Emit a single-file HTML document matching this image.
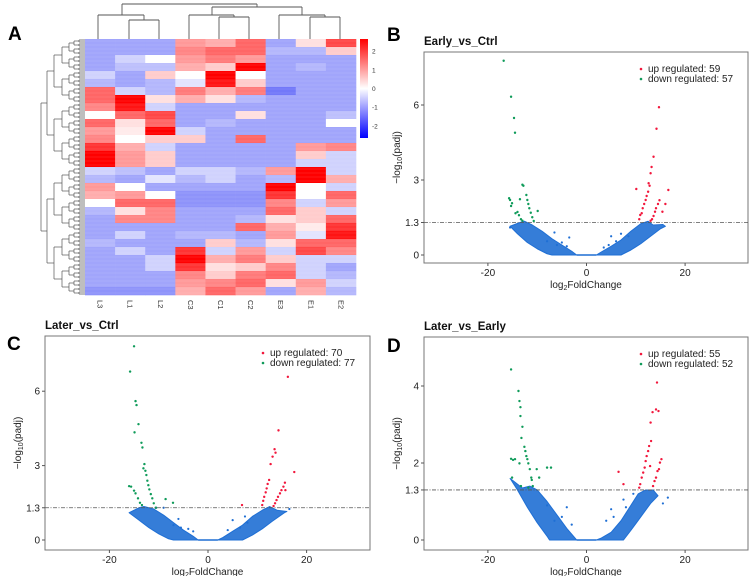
<!DOCTYPE html>
<html><head><meta charset="utf-8"><style>
html,body{margin:0;padding:0;background:#fff}
svg{display:block;font-family:"Liberation Sans",Arial,sans-serif}
</style></head><body>
<svg id="fig" width="753" height="576" viewBox="0 0 753 576">
<text x="8" y="40" font-size="19" font-weight="bold">A</text>
<text x="387" y="41" font-size="19" font-weight="bold">B</text>
<text x="7" y="350" font-size="19" font-weight="bold">C</text>
<text x="387" y="352" font-size="19" font-weight="bold">D</text>
<g id="heat"></g>
<g id="pB"></g>
<g id="pC"></g>
<g id="pD"></g>
</svg>
<script>
const NS="http://www.w3.org/2000/svg";
function mk(p,tag,at){const e=document.createElementNS(NS,tag);for(const k in at)e.setAttribute(k,at[k]);p.appendChild(e);return e;}

// ---------- Heatmap data ----------
const samples=["L3","L1","L2","C3","C1","C2","E3","E1","E2"];
const heatRows=[
[-1,-1,-1,1,0.8,1.5,-1,0.3,1.8],
[-1,-1,-1,1.2,1.5,1.5,-0.8,-0.8,0.5],
[-1,-0.5,0,1,1.3,1,-1,-1,-1],
[-1,-0.7,-0.7,0.8,0.5,2.5,-1,-0.8,-1],
[-0.5,-1,0.5,0,2.5,0,-1,-1,-1],
[-0.8,-1,-0.8,-0.3,2.3,0.5,-1,-1,-1],
[1.5,-0.5,-0.8,1.3,0.8,1.3,-1.5,-1,-1],
[1.5,2.5,0.3,0.8,0.3,-0.8,-1,-1,-1],
[1.2,2.3,-0.5,-1,-1,-1,-1,-1,-1],
[0,1.5,1.8,-1,-1,0.3,-1,-1,-0.7],
[1.5,0.3,1.5,-1,-0.8,-1,-1,-1,0],
[1,0.2,2.5,-0.5,-1,-1,-1,-1,-1],
[1.2,0,0.5,0.5,-1,1.5,-1,-1,-1],
[2,0.8,-0.5,-1,-1,-1,-1,1,1.2],
[2.5,1,0.5,-1,-1,-1,-1,0.5,-0.5],
[2.5,1,0.5,-1,-1,-1,-1,-0.5,-0.5],
[-0.5,-0.7,-1,-0.5,-0.5,-0.8,1,2.5,-0.5],
[-0.8,-1,-0.3,-0.8,-0.5,-1,-0.8,2.5,0.8],
[1,0,-1,-1,-1,-1,2.5,0,-0.5],
[0.8,1,0,-1.2,-1.2,-1.2,2,0,1.5],
[0,1.5,1.5,-1.2,-1.2,-1.2,1.2,-0.5,1],
[-0.8,0.3,1.2,-1,-1,-1,1.5,0.5,-0.5],
[-1,1.2,1.2,-1,-1,-0.8,0.3,0.5,1.5],
[-1,-1,-1,-1,-1,1.5,0.8,0.2,2],
[-1,-0.5,-1,-0.8,-0.8,-1,1,-0.3,2.3],
[-0.8,-1,-1,-1,0.5,-0.8,0.3,1.5,1.5],
[-1,-0.5,-1,2,-0.5,1,-0.5,1.8,1.2],
[-1,-1,-0.5,2.5,0.8,1.3,0.5,-0.5,-0.5],
[-1,-1,-0.5,2,0.3,0.5,1.2,-0.5,-1],
[-1,-1,-1,1.2,0.5,1.3,1.5,-0.5,-0.8],
[-1,-1,-1,1,1.2,1.5,0.3,1,-0.5],
[-1.2,-1.2,-1.2,0.8,1.5,1,-1,0.8,-0.8]];
const colorTicks=[2,1,0,-1,-2];

function heatColor(v){const t=Math.max(-2.5,Math.min(2.5,v))/2.5;
 if(t>=0){const c=Math.round(255*(1-t));return `rgb(255,${c},${c})`;}
 const a=-t;const r=Math.round(255-a*(255-20)),gg=Math.round(255-a*(255-30));return `rgb(${r},${gg},${Math.round(255-a*10)})`;}
(function(){
 const g=document.getElementById('heat');
 const X0=85,Y0=39,W=271,H=256,cw=W/samples.length,rh=H/heatRows.length;
 heatRows.forEach((row,i)=>row.forEach((v,j)=>{
  const r=mk(g,'rect',{x:X0+j*cw,y:Y0+i*rh,width:cw+0.3,height:rh+0.3,fill:heatColor(v)});
  
  
 }));
 for(let k=0;k<64;k++){mk(g,'line',{x1:X0,y1:Y0+k*4+2,x2:X0+W,y2:Y0+k*4+2,stroke:'#fff','stroke-opacity':0.12,'stroke-width':0.8});}
 samples.forEach((s,j)=>{
  const cx=X0+cw*(j+0.5);
  const t=mk(g,'text',{x:0,y:0,'font-size':7.5,fill:'#333',transform:`translate(${cx-2.5},300) rotate(90)`});
  t.textContent=s;
  
  
 });
 const cd=mk(g,'g',{stroke:'#555','stroke-width':0.9,fill:'none'});
 
 
 const segs=[[98,15,144,15],[98,15,98,39],[144,15,144,20],[129,20,159,20],[129,20,129,39],[159,20,159,39],
 [122,4,257,4],[122,4,122,15],[257,4,257,7],[212,7,302,7],[212,7,212,15],[189,15,234,15],[189,15,189,39],[234,15,234,17],[219,17,249,17],[219,17,219,39],[249,17,249,39],
 [302,7,302,15],[279,15,325,15],[279,15,279,39],[325,15,325,17],[310,17,340,17],[310,17,310,39],[340,17,340,39]];
 segs.forEach(s=>mk(cd,'line',{x1:s[0],y1:s[1],x2:s[2],y2:s[3]}));
 const rd=mk(g,'g',{stroke:'#555','stroke-width':0.7,fill:'none'});
 
 
 const levX=[85,79,74,69,62,54,47,41];
 let ys=[];for(let i=0;i<128;i++)ys.push(Y0+(i+0.5)*H/128);
 for(let i=0;i<128;i++)mk(rd,'line',{x1:levX[1],y1:ys[i],x2:85,y2:ys[i],stroke:'#444'});
 for(let l=1;l<levX.length;l++){const nys=[];
  for(let i=0;i<ys.length;i+=2){const a=ys[i],b=ys[i+1];
   mk(rd,'line',{x1:levX[l],y1:a,x2:levX[l],y2:b});
   const m=(a+b)/2;nys.push(m);
   if(l+1<levX.length)mk(rd,'line',{x1:levX[l+1],y1:m,x2:levX[l],y2:m});}
  ys=nys;}
 const defs=mk(g,'defs',{});const lg=mk(defs,'linearGradient',{id:'cb',x1:0,y1:0,x2:0,y2:1});
 [[0,'#ff0000'],[0.5,'#ffffff'],[1,'#0000ff']].forEach(s=>mk(lg,'stop',{offset:s[0],'stop-color':s[1]}));
 const cb=mk(g,'rect',{x:360,y:39,width:8,height:99,fill:'url(#cb)'});
 
 
 colorTicks.forEach(v=>{const y=88.5-v*18.7;
  const t=mk(g,'text',{x:372,y:y+2.5,'font-size':6.5,fill:'#333'});t.textContent=String(v);
  
  });
})();

// ---------- Volcano data ----------
const bDownX=[-16.8,-15.3,-14.7,-14.5,-13.0,-12.8,-15.7,-15.5,-15.1,-15.3,-13.5,-12.2,-12.0,-11.8,-11.6,-11.3,-11.0,-10.7,-9.9,-14.0,-13.7,-13.3,-13.0,-14.4];
const bDownY=[7.77,6.33,5.48,4.89,2.81,2.77,2.27,2.2,2.07,1.96,2.23,2.4,2.2,2.04,1.87,1.69,1.51,1.36,1.76,1.72,1.59,1.43,1.37,1.67];
const bUpX=[14.7,14.2,13.6,13.2,13.0,12.6,12.8,16.6,10.1,12.5,12.2,14.8,14.5,16.0,12.0,11.7,14.1,13.9,13.6,11.4,11.2,10.9,13.3,10.7,13.0,15.4];
const bUpY=[5.91,5.05,3.93,3.52,3.27,2.87,2.77,2.6,2.64,2.53,2.36,2.19,2.04,2.04,2.2,2.04,1.87,1.73,1.56,1.87,1.67,1.6,1.43,1.43,1.37,1.73];
const cDownX=[-15.0,-15.8,-14.7,-14.5,-14.1,-14.9,-13.5,-13.3,-12.9,-13.1,-12.7,-12.5,-12.3,-12.1,-11.9,-11.6,-11.3,-11.0,-16.0,-15.6,-15.0,-14.7,-14.2,-13.8,-13.4,-8.6,-7.1,-10.6];
const cDownY=[7.81,6.79,5.6,5.44,4.67,4.34,3.92,3.73,3.06,2.89,2.79,2.62,2.39,2.21,2.04,1.85,1.68,1.48,2.17,2.15,1.99,1.88,1.68,1.5,1.41,1.65,1.5,1.3];
const cUpX=[16.2,14.3,13.5,13.7,13.1,12.7,17.5,12.4,12.1,11.9,11.7,11.4,11.2,11.0,15.6,15.3,14.9,14.6,14.2,13.9,13.6,13.3,15.7,6.9];
const cUpY=[6.58,4.42,3.66,3.52,3.36,3.06,2.74,2.42,2.26,2.08,1.92,1.74,1.58,1.41,2.31,2.15,2.01,1.88,1.74,1.61,1.48,1.37,2.01,1.41];
const dDownX=[-15.3,-13.8,-13.6,-13.4,-13.4,-13.0,-13.2,-12.6,-12.4,-12.2,-12.0,-11.8,-11.5,-11.2,-11.1,-10.9,-15.3,-14.9,-14.5,-13.6,-15.1,-10.1,-9.6,-8.0,-7.2,-13.3,-11.8];
const dDownY=[4.43,3.87,3.61,3.45,3.22,2.94,2.65,2.42,2.31,2.18,2.1,1.99,1.84,1.62,1.56,1.4,2.11,2.08,2.1,1.99,1.62,1.84,1.62,1.88,1.88,1.4,1.36];
const dUpX=[14.3,14.6,14.1,13.4,13.0,13.1,12.7,12.5,12.2,12.0,11.8,11.5,11.2,10.9,10.7,15.2,14.9,14.7,14.4,14.1,13.8,13.5,12.9,6.5,7.5];
const dUpY=[4.09,3.35,3.39,3.32,3.05,2.57,2.44,2.31,2.18,2.05,1.88,1.75,1.62,1.45,1.36,2.1,2.01,1.84,1.79,1.62,1.53,1.4,1.92,1.77,1.45];
const bLeftBand=[[-15.5,1.15],[-14,0.85],[-12,0.5],[-10,0.25],[-8,0.05],[-7,0],[-2,0],[-3,0.15],[-5,0.4],[-7,0.65],[-9,0.95],[-11,1.2],[-12.6,1.35],[-13.5,1.3]];
const bRightBand=[[2,0],[7,0],[9,0.2],[11,0.45],[13,0.75],[15,1.05],[16,1.15],[15.5,1.22],[13.5,1.2],[12.5,1.35],[11,1.25],[9,0.95],[7,0.6],[5,0.35],[3,0.12]];
const cLeftBand=[[-16,1.1],[-14,0.8],[-12,0.5],[-10,0.25],[-8,0.05],[-7,0],[-2,0],[-3,0.15],[-5,0.4],[-7,0.7],[-9,1.0],[-11,1.25],[-13,1.35],[-14,1.3]];
const cRightBand=[[2,0],[7,0],[9,0.2],[11,0.45],[13,0.75],[15.5,1.1],[16,1.15],[14,1.2],[12.5,1.35],[11,1.2],[9,0.95],[7,0.6],[5,0.35],[3,0.1]];
const dLeftBand=[[-15.5,1.6],[-14,1.3],[-12,0.85],[-10,0.45],[-8,0.1],[-7.5,0],[-2,0],[-4,0.3],[-6,0.65],[-8,1.0],[-10,1.3],[-11.5,1.4],[-13,1.35]];
const dRightBand=[[2,0],[7.5,0],[9,0.25],[11,0.6],[13,0.95],[14.5,1.15],[13.5,1.3],[12,1.3],[10.5,1.2],[9,0.9],[7,0.5],[5,0.2],[3,0.05]];
const bBlueX=[-8,-6.5,-5,-4,-3.5,-6,5,6,4.5,7,8.5,3.5,-15.5];
const bBlueY=[0.55,0.9,0.5,0.35,0.7,0.4,0.75,0.55,0.4,0.85,0.75,0.3,1.1];
const cBlueX=[-7,-6,-4,-3,-5.5,5,6.5,4,7.5,8,16.5,-9,-10.5];
const cBlueY=[0.6,0.85,0.45,0.35,0.5,0.8,0.5,0.4,0.95,0.7,1.25,1.3,1.3];
const dBlueX=[-8,-4,-5,-3,-6.5,5,5.5,4,7.5,8,16.5,15.5,9.5];
const dBlueY=[0.9,0.85,0.6,0.4,0.5,0.8,0.6,0.5,1.05,0.85,1.1,0.95,1.2];

function volcano(id,cfg){
 const g=document.getElementById(id);
 const {L,R,T,B,y0,ppy,title,yTicks,upN,downN}=cfg;
 const x0=(L+R)/2+0.5, ppx=4.93;
 const sx=v=>x0+v*ppx, sy=v=>y0-v*ppy;
 const tt=mk(g,'text',{x:L,y:T-7,'font-size':11.5,'font-weight':'bold',fill:'#111'});tt.textContent=title;
 
 
 mk(g,'rect',{x:L,y:T,width:R-L,height:B-T,fill:'#fff',stroke:'#777','stroke-width':1});
 const clip='clip'+id;const cp=mk(mk(g,'defs',{}),'clipPath',{id:clip});mk(cp,'rect',{x:L,y:T,width:R-L,height:B-T});
 const pg=mk(g,'g',{'clip-path':`url(#${clip})`});
 const blue='#1f6fd4';
 [cfg.lb,cfg.rb].forEach(band=>{
  const p=mk(pg,'polygon',{points:band.map(q=>sx(q[0])+','+sy(q[1])).join(' '),fill:blue,'fill-opacity':0.9,stroke:blue,'stroke-width':1,'stroke-linejoin':'round'});
  
  
 });
 mk(pg,'line',{x1:sx(-2),y1:sy(0),x2:sx(2),y2:sy(0),stroke:blue,'stroke-width':1.5});
 cfg.bx.forEach((v,i)=>{const c=mk(pg,'circle',{cx:sx(v),cy:sy(cfg.by[i]),r:1.1,fill:blue});
  
  });
 mk(g,'line',{x1:L,y1:sy(1.3),x2:R,y2:sy(1.3),stroke:'#555','stroke-width':0.8,'stroke-dasharray':'4,1.5,1,1.5'});
 cfg.dx.forEach((v,i)=>{const c=mk(pg,'circle',{cx:sx(v),cy:sy(cfg.dy[i]),r:1.2,fill:'#0f9b5a'});
  
  });
 cfg.ux.forEach((v,i)=>{const c=mk(pg,'circle',{cx:sx(v),cy:sy(cfg.uy[i]),r:1.2,fill:'#f2173c'});
  
  });
 [-20,0,20].forEach(v=>{mk(g,'line',{x1:sx(v),y1:B,x2:sx(v),y2:B+3,stroke:'#555'});
  const t=mk(g,'text',{x:sx(v),y:B+13,'font-size':10,'text-anchor':'middle',fill:'#222'});t.textContent=String(v);
  
  });
 yTicks.forEach(v=>{mk(g,'line',{x1:L-3,y1:sy(v),x2:L,y2:sy(v),stroke:'#555'});
  const t=mk(g,'text',{x:L-5,y:sy(v)+3.5,'font-size':10,'text-anchor':'end',fill:'#222'});t.textContent=String(v);
  
  });
 const xl=mk(g,'text',{x:(L+R)/2,y:B+25,'font-size':10,'text-anchor':'middle',fill:'#222'});
 xl.innerHTML='log<tspan font-size="7" dy="2">2</tspan><tspan dy="-2">FoldChange</tspan>';
 
 
 const yl=mk(g,'text',{x:0,y:0,'font-size':10,'text-anchor':'middle',fill:'#222',transform:`translate(${L-24},${(T+B)/2}) rotate(-90)`});
 yl.innerHTML='−log<tspan font-size="7" dy="2">10</tspan><tspan dy="-2">(padj)</tspan>';
 
 
 const lx=R-107, ly=T+20;
 mk(g,'circle',{cx:lx,cy:ly-3,r:1.3,fill:'#f2173c'});
 const l1=mk(g,'text',{x:lx+7,y:ly,'font-size':10,fill:'#222'});l1.textContent='up regulated: '+upN;
 
 
 mk(g,'circle',{cx:lx,cy:ly+7,r:1.3,fill:'#0f9b5a'});
 const l2=mk(g,'text',{x:lx+7,y:ly+10,'font-size':10,fill:'#222'});l2.textContent='down regulated: '+downN;
 
 
}
volcano('pB',{L:424,R:748,T:52,B:263,y0:255,ppy:25,title:'Early_vs_Ctrl',yTicks:[0,1.3,3,6],upN:59,downN:57,
 ux:bUpX,uy:bUpY,dx:bDownX,dy:bDownY,lb:bLeftBand,rb:bRightBand,bx:bBlueX,by:bBlueY});
volcano('pC',{L:45,R:370,T:336,B:550,y0:540,ppy:24.8,title:'Later_vs_Ctrl',yTicks:[0,1.3,3,6],upN:70,downN:77,
 ux:cUpX,uy:cUpY,dx:cDownX,dy:cDownY,lb:cLeftBand,rb:cRightBand,bx:cBlueX,by:cBlueY});
volcano('pD',{L:424,R:748,T:337,B:550,y0:540,ppy:38.5,title:'Later_vs_Early',yTicks:[0,1.3,2,4],upN:55,downN:52,
 ux:dUpX,uy:dUpY,dx:dDownX,dy:dDownY,lb:dLeftBand,rb:dRightBand,bx:dBlueX,by:dBlueY});
</script>
</body></html>
